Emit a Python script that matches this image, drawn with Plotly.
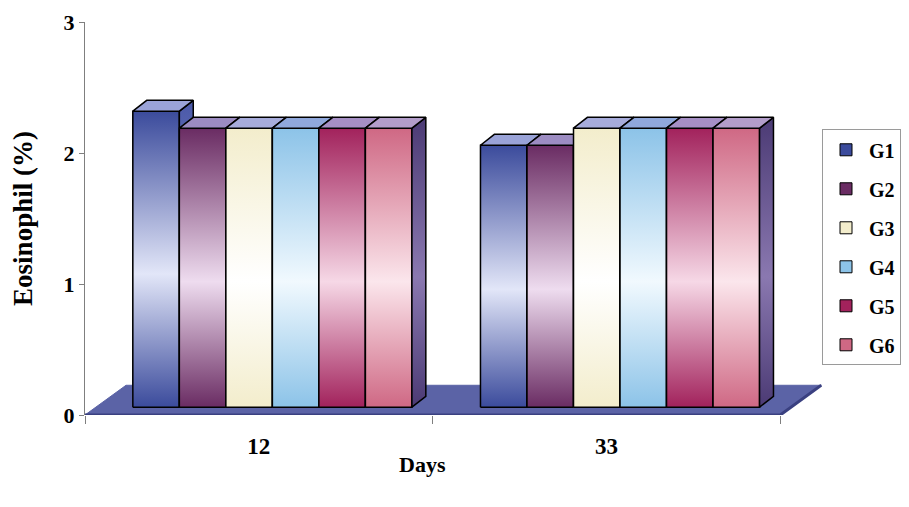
import plotly.graph_objects as go

# ---------------- data ----------------
categories = ["12", "33"]
series_names = ["G1", "G2", "G3", "G4", "G5", "G6"]
g1 = [2.26, 2.0]
g2 = [2.13, 2.0]
g3 = [2.13, 2.13]
g4 = [2.13, 2.13]
g5 = [2.13, 2.13]
g6 = [2.13, 2.13]
series_values = [g1, g2, g3, g4, g5, g6]
y_ticks = [0, 1, 2, 3]
x_axis_title = "Days"
y_axis_title = "Eosinophil (%)"

# ---------------- style ----------------
FONT = "Liberation Serif"
front_base = ["#3b4b9c", "#6a2c63", "#f3edcc", "#8cc3e8", "#a2225c", "#cf6884"]
front_light = ["#e2e6f8", "#eedcef", "#ffffff", "#f1f9fe", "#f6d8e6", "#fbe6ec"]
top_cols = ["#9aa3d8", "#9c8cc2", "#a7acdb", "#90a8dc", "#a68fc5", "#b39dca"]
side_base = ["#4a58a8", "#4a2048", "#b8b090", "#5a88b0", "#701840", "#4b3a74"]
side_light = ["#8c96d4", "#8a6088", "#e0dcc4", "#a8c8e0", "#b06890", "#8a78b0"]
FLOOR_COL = "#5b63a6"
FLOOR_EDGE = "#3a4080"
AXIS_COL = "#7f7f7f"

BAR_W = 0.1338        # bar width in category units
GROUP_SHIFT = 0.039   # perspective shift of the bar block
BAR_LIFT = 0.06       # bars stand on the floor, slightly behind the front edge
DX, DY = 0.040, 0.083         # bar depth projection
FLOOR_DX, FLOOR_DY = 0.118, 0.227
X_MIN, X_MAX = -0.5, 1.62
cat_pos = list(range(len(categories)))
X_END = cat_pos[-1] + 0.5

fig = go.Figure()

# floor
fig.add_trace(go.Scatter(
    x=[X_MIN, X_END, X_END + FLOOR_DX, X_MIN + FLOOR_DX, X_MIN],
    y=[0, 0, FLOOR_DY, FLOOR_DY, 0],
    fill="toself", fillcolor=FLOOR_COL, mode="lines",
    line=dict(color=FLOOR_COL, width=1),
    showlegend=False, hoverinfo="skip"))
fig.add_trace(go.Scatter(
    x=[X_MIN, X_END, X_END + FLOOR_DX], y=[0, 0, FLOOR_DY], mode="lines",
    line=dict(color=FLOOR_EDGE, width=3), showlegend=False, hoverinfo="skip"))

# base bars (legend + data)
for i, (name, vals) in enumerate(zip(series_names, series_values)):
    off = GROUP_SHIFT + (i - len(series_names) / 2) * BAR_W
    fig.add_trace(go.Bar(
        x=cat_pos, y=vals, base=BAR_LIFT, width=BAR_W, offset=off,
        name=name, legendgroup=name,
        marker=dict(color=front_base[i], line=dict(color="black", width=1))))

# 3D faces with shading
for i, (name, vals) in enumerate(zip(series_names, series_values)):
    off = GROUP_SHIFT + (i - len(series_names) / 2) * BAR_W
    for c, v in zip(cat_pos, vals):
        xl = c + off
        xr = xl + BAR_W
        yb = BAR_LIFT
        yt = BAR_LIFT + v
        fig.add_trace(go.Scatter(
            x=[xl, xr, xr, xl, xl], y=[yb, yb, yt, yt, yb],
            fill="toself", mode="lines",
            fillgradient=dict(type="vertical", colorscale=[
                [0, front_base[i]], [0.45, front_light[i]], [1, front_base[i]]]),
            line=dict(color="black", width=1.5),
            showlegend=False, hoverinfo="skip", legendgroup=name))
        fig.add_trace(go.Scatter(
            x=[xr, xr + DX, xr + DX, xr, xr], y=[yb, yb + DY, yt + DY, yt, yb],
            fill="toself", mode="lines",
            fillgradient=dict(type="vertical", colorscale=[
                [0, side_base[i]], [0.45, side_light[i]], [1, side_base[i]]]),
            line=dict(color="black", width=1.5),
            showlegend=False, hoverinfo="skip", legendgroup=name))
        fig.add_trace(go.Scatter(
            x=[xl, xr, xr + DX, xl + DX, xl], y=[yt, yt, yt + DY, yt + DY, yt],
            fill="toself", fillcolor=top_cols[i], mode="lines",
            line=dict(color="black", width=1.5),
            showlegend=False, hoverinfo="skip", legendgroup=name))

fig.update_layout(
    width=901, height=499,
    margin=dict(l=77, r=87, t=14, b=92, autoexpand=False),
    paper_bgcolor="white", plot_bgcolor="white",
    barmode="overlay",
    font=dict(family=FONT, size=22, color="black", weight="bold"),
    showlegend=True,
    legend=dict(x=1.0, xanchor="left", y=0.727, yanchor="top",
                bordercolor="#9a9a9a", borderwidth=1,
                font=dict(family=FONT, size=20, color="black", weight="bold"),
                tracegroupgap=10, itemwidth=36, traceorder="grouped"),
    xaxis=dict(range=[X_MIN, X_MAX], tickvals=cat_pos, ticktext=categories,
               ticks="", showline=False, showgrid=False, zeroline=False,
               automargin=False, ticklabelstandoff=15,
               tickfont=dict(family=FONT, size=23, weight="bold"),
               minor=dict(tickmode="array", tickvals=[X_MIN, 0.5, X_END],
                          ticks="outside", ticklen=8, tickcolor=AXIS_COL,
                          showgrid=False)),
    yaxis=dict(range=[0, 3.001], tickvals=y_ticks, ticks="outside", ticklen=5,
               tickcolor=AXIS_COL, showline=True, linecolor=AXIS_COL,
               showgrid=False, zeroline=False, automargin=False,
               ticklabeloverflow="allow",
               tickfont=dict(family=FONT, size=22, weight="bold"),
               title=dict(text=y_axis_title, standoff=28,
                          font=dict(family=FONT, size=27, weight="bold"))),
    annotations=[dict(text=x_axis_title, x=0.47, xref="x", y=-0.127,
                      yref="paper", yanchor="middle", showarrow=False,
                      font=dict(family=FONT, size=22, weight="bold"))],
)

fig.write_html("out.html")
